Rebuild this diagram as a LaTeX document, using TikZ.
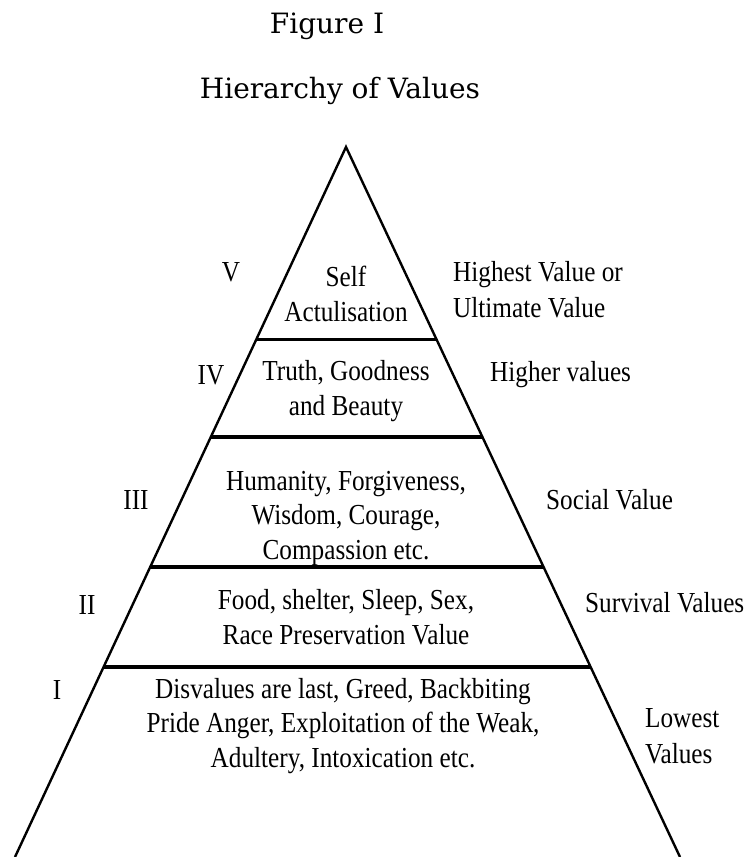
\documentclass[tikz,border=0pt]{standalone}
\usepackage{fontspec}
\setmainfont{Liberation Serif}[FakeStretch=0.87]
\newfontfamily\titlefont{DejaVu Serif}
\usetikzlibrary{calc}
\begin{document}
\begin{tikzpicture}[x=1pt,y=-1pt,
  txt/.style={inner sep=0pt, align=center, font=\fontsize{29}{34.5}\selectfont},
  lbl/.style={inner sep=0pt, anchor=west, align=left, font=\fontsize{29}{36}\selectfont},
  num/.style={inner sep=0pt, font=\fontsize{29}{34.5}\selectfont},
  ttl/.style={inner sep=0pt, anchor=base, font=\titlefont\fontsize{28}{33}\selectfont},
  side/.style={line width=2.4pt, line join=miter},
  divthin/.style={line width=3pt},
  divthick/.style={line width=4.6pt}]
\useasboundingbox (0,0) rectangle (753,857);
\fill[white] (0,0) rectangle (753,857);
% title
\node[ttl] (t1) at (327,33) {Figure I};
\node[ttl] (t2) at (340,98) {Hierarchy of Values};
% pyramid
\coordinate (apex) at (346,147);
\coordinate (bl) at (15,857);
\coordinate (br) at (680,857);
\draw[side] (bl) -- (apex) -- (br);
\coordinate (l1) at ($(apex)!0.2718!(bl)$);
\coordinate (r1) at ($(apex)!0.2718!(br)$);
\coordinate (l2) at ($(apex)!0.4085!(bl)$);
\coordinate (r2) at ($(apex)!0.4085!(br)$);
\coordinate (l3) at ($(apex)!0.5915!(bl)$);
\coordinate (r3) at ($(apex)!0.5915!(br)$);
\coordinate (l4) at ($(apex)!0.7324!(bl)$);
\coordinate (r4) at ($(apex)!0.7324!(br)$);
\draw[divthin] (l1) -- (r1);
\draw[divthick] (l2) -- (r2);
\draw[divthick] (l3) -- (r3);
\draw[divthick] (l4) -- (r4);
% level texts
\node[txt] (c5) at (346,294) {Self\\Actulisation};
\node[txt] (c4) at (346,391) {Truth, Goodness\\and Beauty};
\node[txt] (c3) at (346,518) {Humanity, Forgiveness,\\Wisdom, Courage,\\Compassion etc.};
\node[txt] (c2) at (346,617) {Food, shelter, Sleep, Sex,\\Race Preservation Value};
\node[txt] (c1) at (343,726) {Disvalues are last, Greed, Backbiting\\Pride Anger, Exploitation of the Weak,\\Adultery, Intoxication etc.};
% numerals
\node[num] (n5) at (231,272) {V};
\node[num] (n4) at (211,375) {IV};
\node[num] (n3) at (136,500) {III};
\node[num] (n2) at (87,605) {II};
\node[num] (n1) at (57,690) {I};
% right labels
\node[lbl] (r5) at (453,290) {Highest Value or\\Ultimate Value};
\node[lbl] (r4l) at (490,375) {Higher values};
\node[lbl] (r3l) at (546,500) {Social Value};
\node[lbl] (r2l) at (585,603) {Survival Values};
\node[lbl] (r1l) at (645,736) {Lowest\\Values};
\end{tikzpicture}
\end{document}
